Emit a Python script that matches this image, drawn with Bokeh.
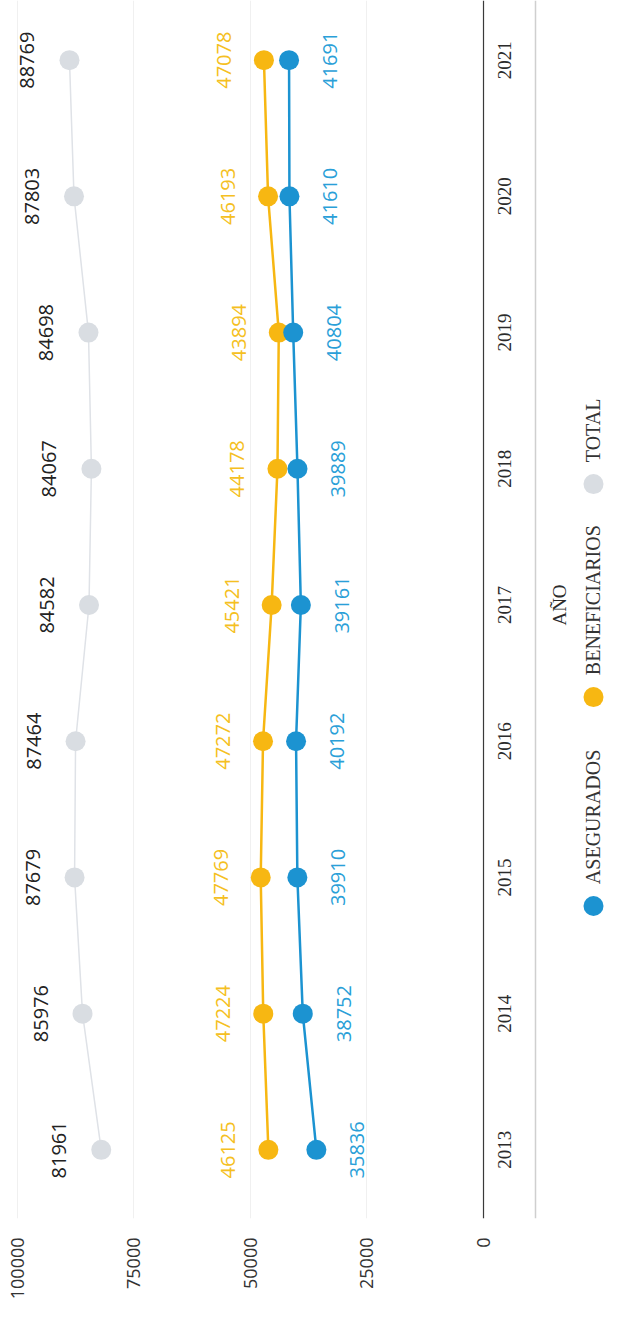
import math
from bokeh.plotting import figure
from bokeh.models import Range1d, FixedTicker, Span, NumeralTickFormatter
from bokeh.core.properties import value
from bokeh.embed import file_html
from bokeh.resources import INLINE

# ---- data ----
years = [2013, 2014, 2015, 2016, 2017, 2018, 2019, 2020, 2021]
year_labels = [str(y) for y in years]
asegurados = [35836, 38752, 39910, 40192, 39161, 39889, 40804, 41610, 41691]
beneficiarios = [46125, 47224, 47769, 47272, 45421, 44178, 43894, 46193, 47078]
total = [81961, 85976, 87679, 87464, 84582, 84067, 84698, 87803, 88769]
value_ticks = [0, 25000, 50000, 75000, 100000]
series_names = ["ASEGURADOS", "BENEFICIARIOS", "TOTAL"]
axis_title = "AÑO"

# ---- styles ----
BLUE = "#1c93d1"
ORANGE = "#f7b712"
GREY_DOT = "#d9dde2"
GREY_LINE = "#dfe2e7"
BLUE_TXT = "#2a9fd8"
ORANGE_TXT = "#f5bf22"
SANS = "Open Sans"
SERIF = "Liberation Serif"

W, H = 606, 1302
FRAME_H = 1224
X0, X1 = 103560, -26370
Y0, Y1 = 2012.496, 2021.438
PXX = W / (X0 - X1)
PXY = FRAME_H / (Y1 - Y0)


def img_x(px):
    return X0 - (px - 8) / PXX


def img_y(py):
    return Y1 - (py - 8) / PXY


p = figure(width=W, height=H, x_range=Range1d(X0, X1), y_range=Range1d(Y0, Y1),
           y_axis_location=None, toolbar_location=None, output_backend="svg",
           min_border_left=0, min_border_right=0, min_border_top=0, min_border_bottom=78)
p.outline_line_color = None
p.background_fill_color = "white"
p.border_fill_color = "white"

ax = p.xaxis[0]
ax.ticker = FixedTicker(ticks=value_ticks)
ax.formatter = NumeralTickFormatter(format="0")
ax.major_label_orientation = math.pi / 2
ax.axis_line_color = None
ax.major_tick_line_color = None
ax.minor_tick_line_color = None
ax.major_label_text_font = SANS
ax.major_label_text_font_size = "18px"
ax.major_label_text_color = "#333333"
ax.major_label_standoff = 13

p.xgrid.ticker = FixedTicker(ticks=value_ticks)
p.xgrid.grid_line_color = "#f0f0f0"
p.ygrid.visible = False

p.add_layout(Span(location=0, dimension="height", line_color="#3a3a3a", line_width=1.2))
p.add_layout(Span(location=img_x(543), dimension="height", line_color="#cfcfcf", line_width=1.5))

# series
p.line(total, years, line_color=GREY_LINE, line_width=1.5)
p.scatter(total, years, size=20, fill_color=GREY_DOT, line_color=None)
p.line(beneficiarios, years, line_color=ORANGE, line_width=2.5)
p.scatter(beneficiarios, years, size=20, fill_color=ORANGE, line_color=None)
p.line(asegurados, years, line_color=BLUE, line_width=2.5)
p.scatter(asegurados, years, size=20, fill_color=BLUE, line_color=None)

common = dict(angle=math.pi / 2, text_align="center", text_baseline="middle",
              text_font=value(SANS), text_font_size="20px")
p.text(total, years, text=[str(v) for v in total], x_offset=-42, text_color="#222222", **common)
p.text(beneficiarios, years, text=[str(v) for v in beneficiarios], x_offset=-40,
       text_color=ORANGE_TXT, **common)
p.text(asegurados, years, text=[str(v) for v in asegurados], x_offset=41,
       text_color=BLUE_TXT, **common)

# year axis labels
p.text([0] * len(years), years, text=year_labels, x_offset=21, angle=math.pi / 2,
       text_align="center", text_baseline="middle", text_font=value(SERIF),
       text_font_size="19px", text_color="#2b2b2b")
p.text([0], [(years[0] + years[-1]) / 2], text=[axis_title], x_offset=76, angle=math.pi / 2,
       text_align="center", text_baseline="middle", text_font=value(SERIF),
       text_font_size="19px", text_color="#2b2b2b")

# legend (rotated)
leg_colors = [BLUE, ORANGE, GREY_DOT]
leg_dot_py = [918, 708, 494]
leg_txt_py = [896, 686, 472]
p.scatter([img_x(601)] * 3, [img_y(v) for v in leg_dot_py], size=20,
          fill_color=leg_colors, line_color=None)
p.text([img_x(600)] * 3, [img_y(v) for v in leg_txt_py], text=series_names,
       angle=math.pi / 2, text_align="left", text_baseline="middle",
       text_font=value(SERIF), text_font_size="20px", text_color="#333333")

open("out.html", "w").write(file_html(p, INLINE))
